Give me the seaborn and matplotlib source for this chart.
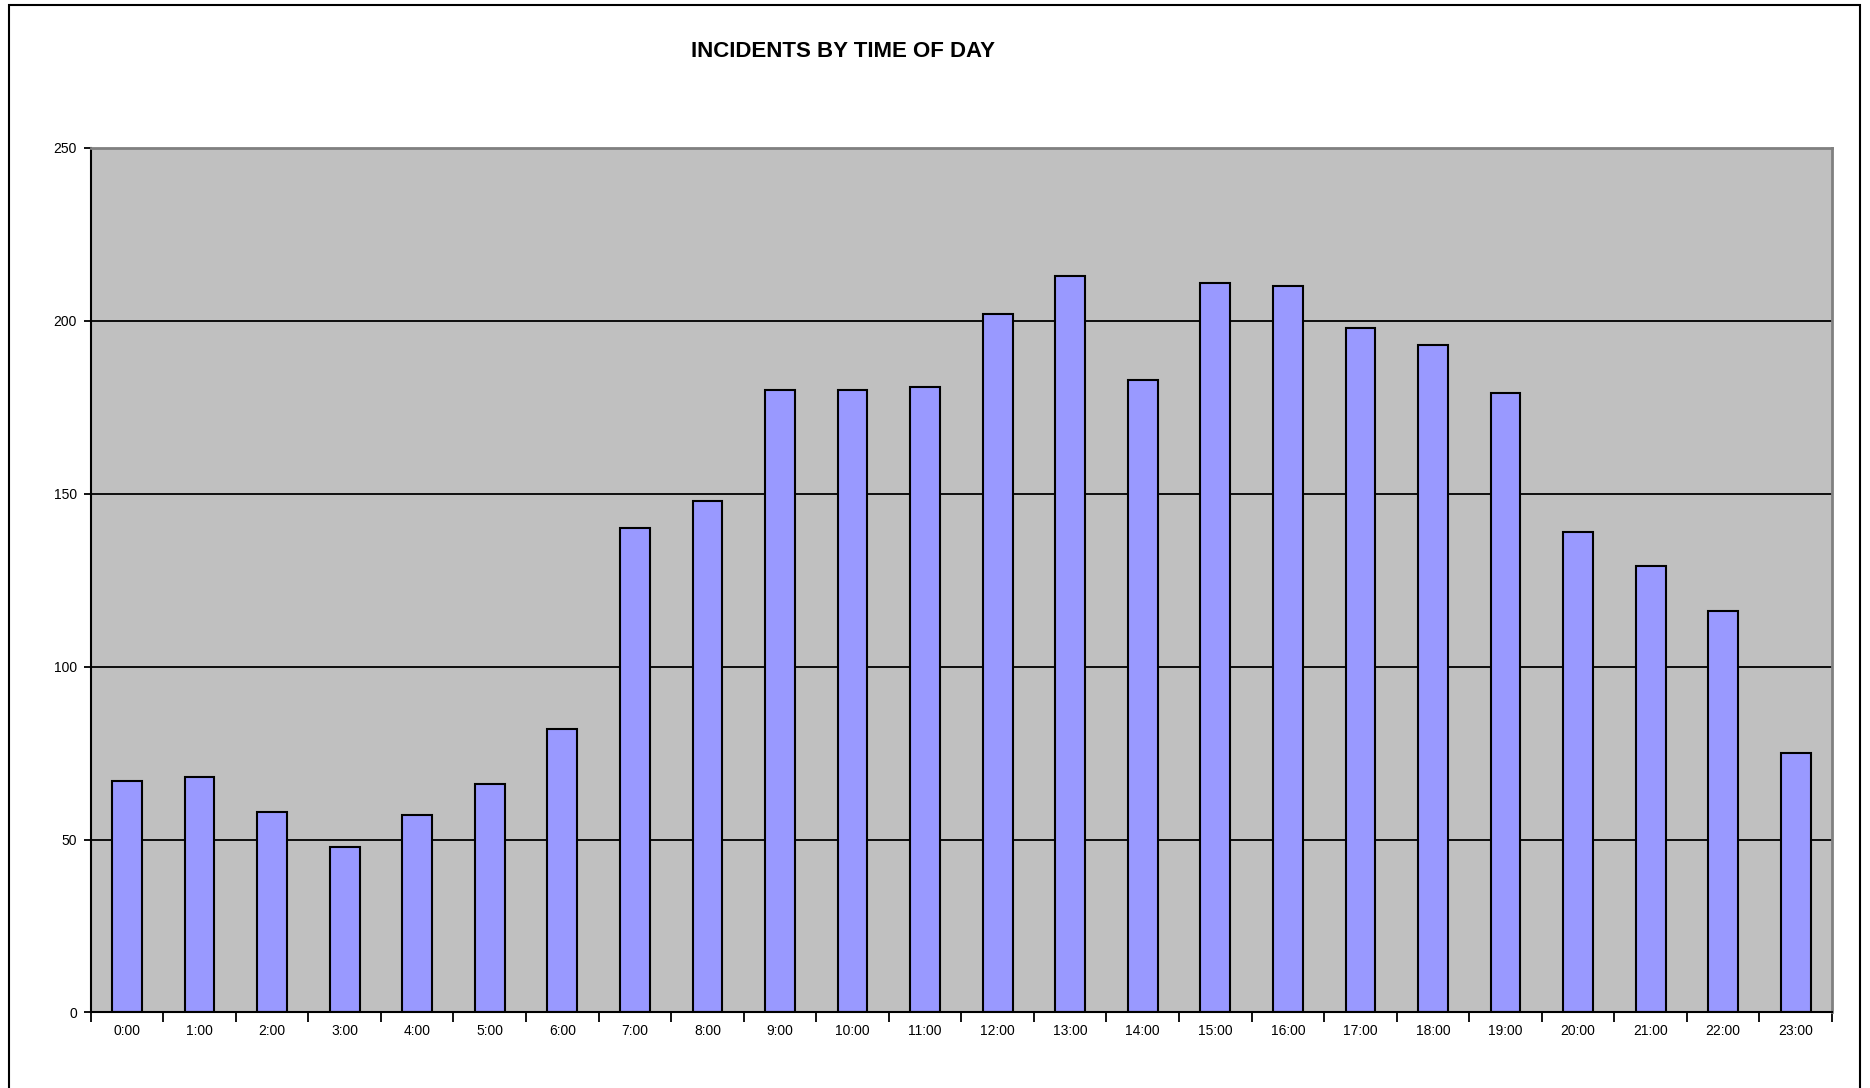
import numpy as np
import matplotlib.pyplot as plt
import pandas as pd
import seaborn as sns
from matplotlib.patches import Rectangle

# incidents per hour
hours = ['0:00', '1:00', '2:00', '3:00', '4:00', '5:00', '6:00', '7:00',
         '8:00', '9:00', '10:00', '11:00', '12:00', '13:00', '14:00', '15:00',
         '16:00', '17:00', '18:00', '19:00', '20:00', '21:00', '22:00', '23:00']
incidents = [67, 68, 58, 48, 57, 66, 82, 140, 148, 180, 180, 181,
             202, 213, 183, 211, 210, 198, 193, 179, 139, 129, 116, 75]
y_ticks = [0, 50, 100, 150, 200, 250]

sns.set_style('white')
plt.rcParams['font.family'] = ['Liberation Sans', 'DejaVu Sans']
plt.rcParams['text.color'] = 'black'
plt.rcParams['xtick.color'] = 'black'
plt.rcParams['ytick.color'] = 'black'

df = pd.DataFrame({'hour': hours, 'incidents': incidents})

fig = plt.figure(figsize=(18.7, 10.88), dpi=100, facecolor='w')
ax = fig.add_axes([0.0485, 0.0694, 0.9312, 0.7946])

sns.barplot(data=df, x='hour', y='incidents', color='#9999FF', saturation=1,
            edgecolor='black', linewidth=1.5, width=0.41, ax=ax)

ax.set_facecolor('#C0C0C0')
ax.set_xlim(-0.5, len(hours) - 0.5)
ax.set_ylim(0, 250)
ax.set_yticks(y_ticks)
ax.yaxis.grid(True, color='black', lw=1.3)
ax.xaxis.grid(False)
ax.set_axisbelow(True)
ax.set_xlabel('')
ax.set_ylabel('')

for side in ['left', 'bottom']:
    ax.spines[side].set_color('black')
    ax.spines[side].set_linewidth(1.5)
for side in ['top', 'right']:
    ax.spines[side].set_color('#808080')
    ax.spines[side].set_linewidth(2)

ax.tick_params(axis='y', left=True, direction='out', length=5, width=1.3,
               color='black', labelsize=10, pad=5)
ax.set_xticks(np.arange(len(hours)))
ax.set_xticklabels(hours)
ax.set_xticks(np.arange(-0.5, len(hours), 1), minor=True)
ax.tick_params(axis='x', which='major', length=0, labelsize=10, pad=8)
ax.tick_params(axis='x', which='minor', bottom=True, direction='out',
               length=7, width=1.3, color='black')

fig.text(0.451, 0.953, 'INCIDENTS BY TIME OF DAY', ha='center', va='center',
         fontsize=16, fontweight='bold', color='black')

# outer chart frame (runs off the bottom like the original)
fig.add_artist(Rectangle((9 / 1870, -0.05), (1860 - 9) / 1870, 1.0454,
                         transform=fig.transFigure, fill=False,
                         edgecolor='black', lw=1.5, clip_on=False))

fig.savefig('out.png', dpi=100)
